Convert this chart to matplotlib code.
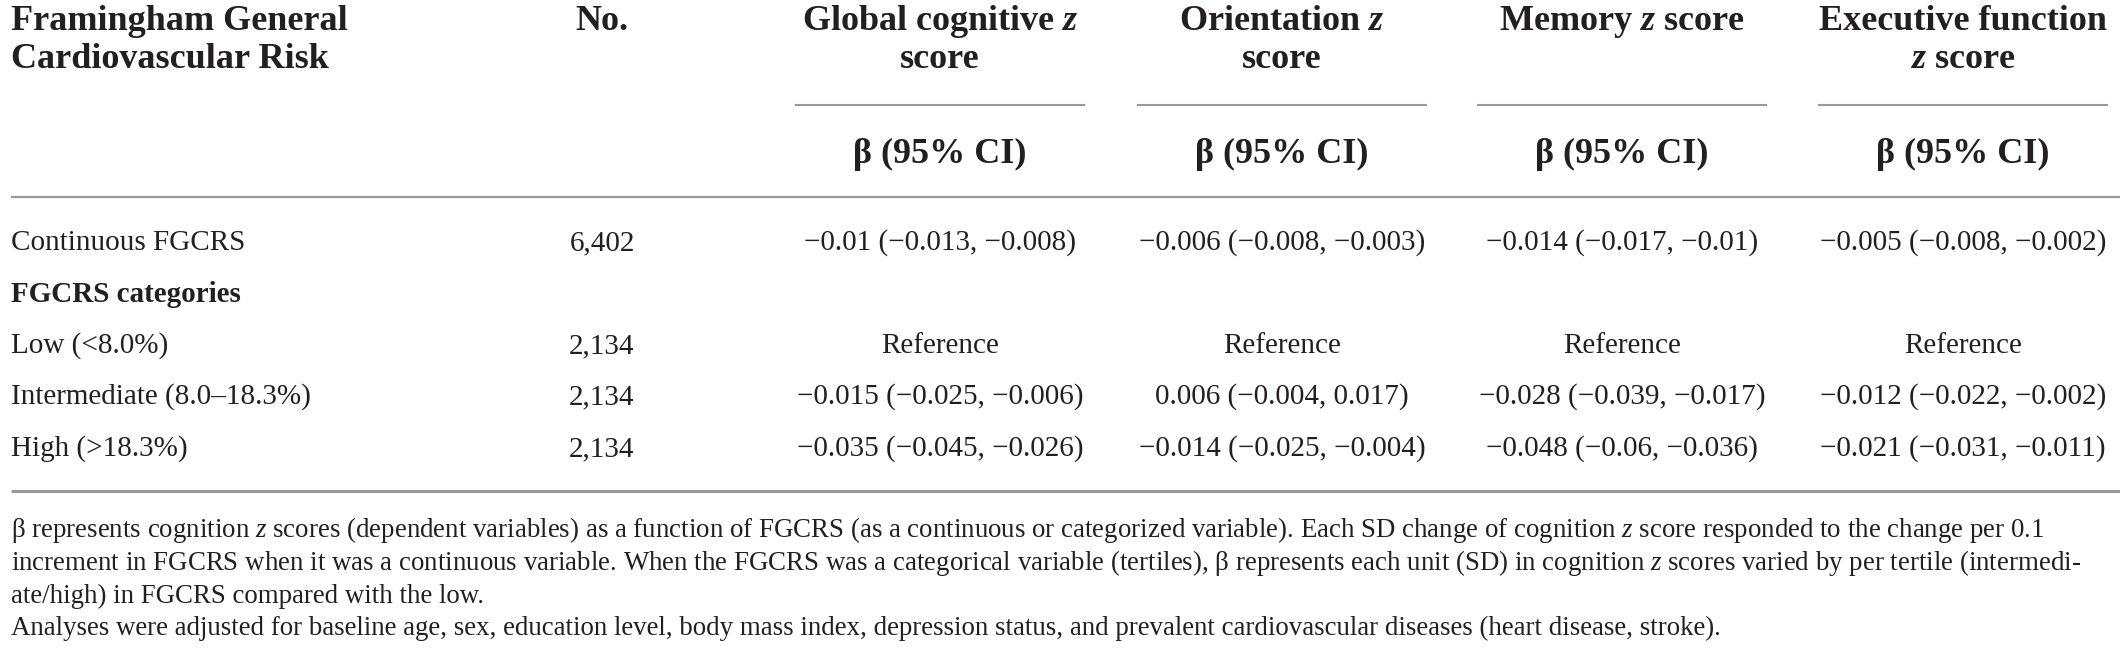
import matplotlib
matplotlib.use("Agg")
import matplotlib.pyplot as plt

# -----------------------------
# Table content
# -----------------------------
first_header = ["Framingham General", "Cardiovascular Risk"]
n_header = "No."
col_headers = [
    ["Global cognitive $\\mathbfit{z}$", "score"],
    ["Orientation $\\mathbfit{z}$", "score"],
    ["Memory $\\mathbfit{z}$ score"],
    ["Executive function", "$\\mathbfit{z}$ score"],
]
sub_header = "β (95% CI)"

row_labels = ["Continuous FGCRS", "FGCRS categories", "Low (<8.0%)",
              "Intermediate (8.0–18.3%)", "High (>18.3%)"]
row_bold = [False, True, False, False, False]
row_n = ["6,402", "", "2,134", "2,134", "2,134"]

global_beta = ["−0.01 (−0.013, −0.008)", "", "Reference",
               "−0.015 (−0.025, −0.006)", "−0.035 (−0.045, −0.026)"]
orient_beta = ["−0.006 (−0.008, −0.003)", "", "Reference",
               "0.006 (−0.004, 0.017)", "−0.014 (−0.025, −0.004)"]
memory_beta = ["−0.014 (−0.017, −0.01)", "", "Reference",
               "−0.028 (−0.039, −0.017)", "−0.048 (−0.06, −0.036)"]
exec_beta = ["−0.005 (−0.008, −0.002)", "", "Reference",
             "−0.012 (−0.022, −0.002)", "−0.021 (−0.031, −0.011)"]

footnotes = [
    "β represents cognition $z$ scores (dependent variables) as a function of FGCRS (as a continuous or categorized variable). Each SD change of cognition $z$ score responded to the change per 0.1",
    "increment in FGCRS when it was a continuous variable. When the FGCRS was a categorical variable (tertiles), β represents each unit (SD) in cognition $z$ scores varied by per tertile (intermedi-",
    "ate/high) in FGCRS compared with the low.",
    "Analyses were adjusted for baseline age, sex, education level, body mass index, depression status, and prevalent cardiovascular diseases (heart disease, stroke).",
]

# -----------------------------
# Style / layout (pixel coordinates)
# -----------------------------
plt.rcParams["font.family"] = ["Liberation Serif", "DejaVu Serif"]
plt.rcParams["mathtext.fontset"] = "custom"
plt.rcParams["mathtext.rm"] = "Liberation Serif"
plt.rcParams["mathtext.it"] = "Liberation Serif:italic"
plt.rcParams["mathtext.bf"] = "Liberation Serif:bold"
plt.rcParams["mathtext.bfit"] = "Liberation Serif:bold:italic"

ink = "#231f20"
rule = "#9a9a9a"
W, H = 2120, 657

fs_head = 26
fs_body = 21
fs_note = 19.4

x_left = 11
x_n = 602
x_cols = [940, 1282, 1622, 1963]
col_half = 145
y_head = [22, 60]
y_underline = 105
y_sub = 154
y_rule1 = 197
y_rows = [243, 294, 346, 397, 449]
y_rule2 = 491
y_notes = [530, 563, 596, 628]

fig = plt.figure(figsize=(W / 100, H / 100), dpi=100)
ax = fig.add_axes([0, 0, 1, 1])
ax.set_xlim(0, W)
ax.set_ylim(H, 0)
ax.axis("off")

# header
for i, line in enumerate(first_header):
    ax.text(x_left, y_head[i], line, fontsize=fs_head, fontweight="bold",
            color=ink, ha="left", va="center")
ax.text(x_n, y_head[0], n_header, fontsize=fs_head, fontweight="bold",
        color=ink, ha="center", va="center")
for xc, lines in zip(x_cols, col_headers):
    for i, line in enumerate(lines):
        ax.text(xc, y_head[i], line, fontsize=fs_head, fontweight="bold",
                color=ink, ha="center", va="center")
    ax.plot([xc - col_half, xc + col_half], [y_underline, y_underline],
            color=rule, lw=1.5, solid_capstyle="butt")
    ax.text(xc, y_sub, sub_header, fontsize=fs_head, fontweight="bold",
            color=ink, ha="center", va="center")

ax.plot([x_left, W], [y_rule1, y_rule1], color=rule, lw=1.6, solid_capstyle="butt")

# body
columns = [global_beta, orient_beta, memory_beta, exec_beta]
for r, y in enumerate(y_rows):
    ax.text(x_left, y, row_labels[r], fontsize=fs_body,
            fontweight="bold" if row_bold[r] else "normal",
            color=ink, ha="left", va="center")
    ax.text(x_n, y, row_n[r], fontsize=fs_body, color=ink,
            ha="center", va="center")
    for xc, col in zip(x_cols, columns):
        ax.text(xc, y, col[r], fontsize=fs_body, color=ink,
                ha="center", va="center")

ax.plot([x_left, W], [y_rule2, y_rule2], color=rule, lw=2.2, solid_capstyle="butt")

# footnotes
for y, line in zip(y_notes, footnotes):
    ax.text(x_left, y, line, fontsize=fs_note, color=ink, ha="left", va="center")

fig.savefig("out.png", dpi=100)
